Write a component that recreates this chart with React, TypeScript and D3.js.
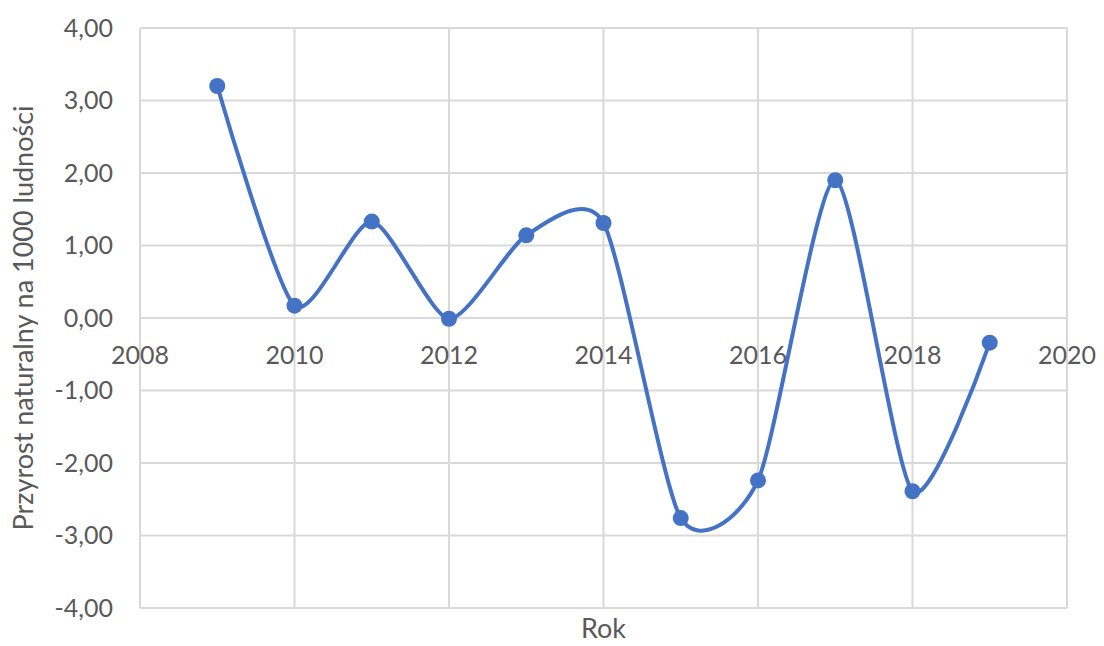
import React, { useRef, useEffect } from 'react';
import * as d3 from 'd3';

const years = [2009, 2010, 2011, 2012, 2013, 2014, 2015, 2016, 2017, 2018, 2019];
const values = [3.2, 0.17, 1.33, -0.01, 1.14, 1.31, -2.76, -2.24, 1.9, -2.39, -0.34];
const xTicks = [2008, 2010, 2012, 2014, 2016, 2018, 2020];
const yTicks = [-4, -3, -2, -1, 0, 1, 2, 3, 4];

const xTitle = 'Rok';
const yTitle = 'Przyrost naturalny na 1000 ludności';

const App: React.FC = () => {
  const svgRef = useRef<SVGSVGElement>(null);
  const width = 1104;
  const height = 646;

  useEffect(() => {
    if (!svgRef.current) return;
    document.body.style.margin = '0';

    const svg = d3.select(svgRef.current);
    svg.selectAll('*').remove();

    const margin = { top: 28, right: 37, bottom: 38, left: 140 };
    const font = 'Lato, "Noto Sans", sans-serif';
    const textColor = '#595959';
    const gridColor = '#d9d9d9';
    const lineColor = '#4472c4';

    const x = d3
      .scaleLinear()
      .domain([2008, 2020])
      .range([margin.left, width - margin.right]);
    const y = d3
      .scaleLinear()
      .domain([-4, 4])
      .range([height - margin.bottom, margin.top]);

    // Gridlines
    svg
      .append('g')
      .selectAll('line')
      .data(yTicks)
      .enter()
      .append('line')
      .attr('x1', x(2008))
      .attr('x2', x(2020))
      .attr('y1', (d) => y(d))
      .attr('y2', (d) => y(d))
      .attr('stroke', gridColor)
      .attr('stroke-width', 2);

    svg
      .append('g')
      .selectAll('line')
      .data(xTicks)
      .enter()
      .append('line')
      .attr('x1', (d) => x(d))
      .attr('x2', (d) => x(d))
      .attr('y1', y(4))
      .attr('y2', y(-4))
      .attr('stroke', gridColor)
      .attr('stroke-width', 2);

    // Y tick labels
    const fmt = (v: number) => v.toFixed(2).replace('.', ',');
    svg
      .append('g')
      .selectAll('text')
      .data(yTicks)
      .enter()
      .append('text')
      .attr('x', margin.left - 27)
      .attr('y', (d) => y(d))
      .attr('dy', '0.35em')
      .attr('text-anchor', 'end')
      .attr('font-family', font)
      .attr('font-size', 25)
      .attr('fill', textColor)
      .text((d) => fmt(d));

    // X tick labels sit under the zero line
    svg
      .append('g')
      .selectAll('text')
      .data(xTicks)
      .enter()
      .append('text')
      .attr('x', (d) => x(d))
      .attr('y', y(0) + 46)
      .attr('text-anchor', 'middle')
      .attr('font-family', font)
      .attr('font-size', 25)
      .attr('fill', textColor)
      .text((d) => d);

    // Axis titles
    svg
      .append('text')
      .attr('x', (x(2008) + x(2020)) / 2)
      .attr('y', height - 8)
      .attr('text-anchor', 'middle')
      .attr('font-family', font)
      .attr('font-size', 27)
      .attr('fill', textColor)
      .text(xTitle);

    svg
      .append('text')
      .attr('transform', `translate(33,${(y(4) + y(-4)) / 2}) rotate(-90)`)
      .attr('text-anchor', 'middle')
      .attr('font-family', font)
      .attr('font-size', 27)
      .attr('fill', textColor)
      .text(yTitle);

    // Smoothed line, close to Excel's smoothing
    const points = years.map((yr, i) => [yr, values[i]] as [number, number]);
    const line = d3
      .line<[number, number]>()
      .x((d) => x(d[0]))
      .y((d) => y(d[1]))
      .curve(d3.curveCardinal.tension(0.3));

    svg
      .append('path')
      .datum(points)
      .attr('d', line)
      .attr('fill', 'none')
      .attr('stroke', lineColor)
      .attr('stroke-width', 4)
      .attr('stroke-linecap', 'round');

    svg
      .append('g')
      .selectAll('circle')
      .data(points)
      .enter()
      .append('circle')
      .attr('cx', (d) => x(d[0]))
      .attr('cy', (d) => y(d[1]))
      .attr('r', 8)
      .attr('fill', lineColor);
  }, []);

  return (
    <div>
      <svg ref={svgRef} width={width} height={height} style={{ display: 'block', background: '#fff' }} />
    </div>
  );
};

export default App;
